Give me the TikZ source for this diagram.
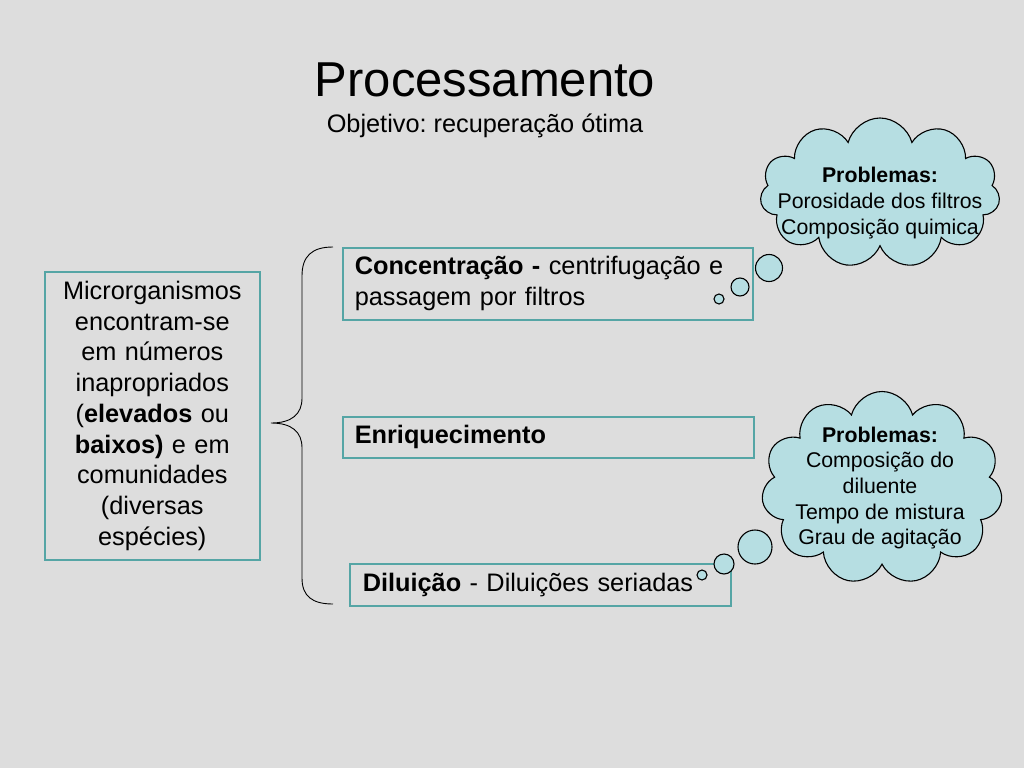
\documentclass[tikz,border=0pt]{standalone}
\usepackage{fontspec}
\setmainfont{Liberation Sans}
\usetikzlibrary{shapes.symbols}
\definecolor{bgc}{RGB}{221,221,221}
\definecolor{cloudc}{RGB}{182,222,226}
\definecolor{boxc}{RGB}{85,165,165}
\tikzset{
  mainfont/.style={font=\fontsize{25.3}{30.7}\selectfont},
  cloudfont/.style={font=\fontsize{21.3}{25.6}\selectfont},
  stepbox/.style={draw=boxc, line width=1.6pt, mainfont, inner ysep=0pt, anchor=north west, align=left},
  puff/.style={cloud, cloud puffs=11, cloud ignores aspect, draw=black, fill=cloudc, line width=1.1pt, inner sep=0pt},
  bubble/.style={circle, draw=black, fill=cloudc, line width=1.1pt, inner sep=0pt},
}
\begin{document}
\frenchspacing
\begin{tikzpicture}[x=1pt,y=-1pt]
\fill[bgc] (0,0) rectangle (1024,768);
\useasboundingbox (0,0) rectangle (1024,768);

\node (title) at (485,80) {\fontsize{49}{56}\selectfont Processamento};
\node[mainfont] (sub) at (485,126) {Objetivo: recuperação ótima};

% left box
\node[draw=boxc, line width=1.6pt, mainfont, align=center, anchor=north west,
      minimum width=215pt, minimum height=288pt, text width=205pt, inner sep=0pt] (micro) at (44,271)
  {Microrganismos\\ encontram-se\\ em números\\ inapropriados\\ (\textbf{elevados} ou\\ \textbf{baixos)} e em\\ comunidades\\ (diversas\\ espécies)};

% brace
\coordinate (bt) at (333,247);
\coordinate (bb) at (333,604);
\coordinate (tip) at (271,423);
\draw[line width=0.9pt] (bt) .. controls (312,247) and (302,256) .. (302,276) -- (302,398)
   .. controls (302,414) and (292,423) .. (tip)
   .. controls (292,423) and (302,432) .. (302,448) -- (302,578)
   .. controls (302,596) and (312,604) .. (bb);

% right boxes
\node[stepbox, minimum width=410pt, minimum height=72pt, text width=386pt, inner xsep=12pt] (conc) at (342,247)
  {\textbf{Concentração -} centrifugação e\\ passagem por filtros};
\node[stepbox, minimum width=411pt, minimum height=41pt, text width=387pt, inner xsep=12pt] (enr) at (342,416)
  {\textbf{Enriquecimento}};
\node[stepbox, minimum width=381pt, minimum height=42pt, text width=355pt, inner xsep=13pt] (dil) at (349,563)
  {\textbf{Diluição} - Diluições seriadas};

% cloud 1
\node[puff, minimum width=240pt, minimum height=150pt] (c1) at (880,193) {};
\node[cloudfont, align=center] (c1t) at (880,203) {\textbf{Problemas:}\\ Porosidade dos filtros\\ Composição quimica};
\node[bubble, minimum size=27pt] (b11) at (769,268) {};
\node[bubble, minimum size=18pt] (b12) at (740,287) {};
\node[bubble, minimum size=10pt] (b13) at (719,299) {};

% cloud 2
\node[puff, minimum width=241pt, minimum height=193pt] (c2) at (882,488) {};
\node[cloudfont, align=center] (c2t) at (880,488) {\textbf{Problemas:}\\ Composição do\\ diluente\\ Tempo de mistura\\ Grau de agitação};
\node[bubble, minimum size=34pt] (b21) at (755,547) {};
\node[bubble, minimum size=20pt] (b22) at (724,564) {};
\node[bubble, minimum size=10pt] (b23) at (702,575) {};
\end{tikzpicture}
\end{document}
